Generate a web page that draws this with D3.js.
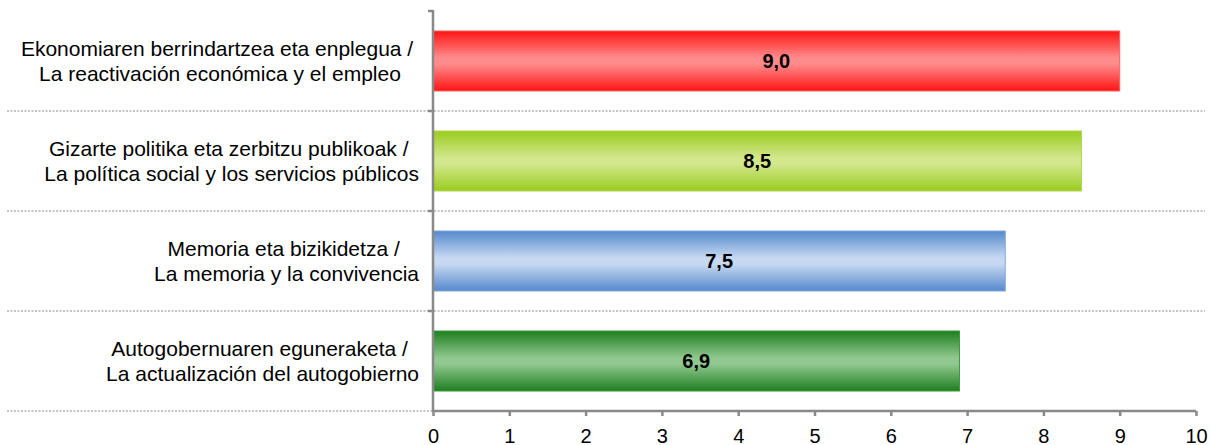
<!DOCTYPE html>
<html><head><meta charset="utf-8">
<script src="https://cdn.jsdelivr.net/npm/d3@7"></script>
<style>html,body{margin:0;padding:0;background:#fff;}svg{display:block;}</style>
</head><body>
<svg id="chart" width="1211" height="445"></svg>
<script>
const categoriesLine1 = [
  "Ekonomiaren berrindartzea eta enplegua / ",
  "Gizarte politika eta zerbitzu publikoak / ",
  "Memoria eta bizikidetza / ",
  "Autogobernuaren eguneraketa / "
];
const categoriesLine2 = [
  "La reactivación económica y el empleo",
  "La política social y los servicios públicos",
  "La memoria y la convivencia",
  "La actualización del autogobierno"
];
const values = [9.0, 8.5, 7.5, 6.9];
const valueLabels = ["9,0", "8,5", "7,5", "6,9"];
const xTicks = [0,1,2,3,4,5,6,7,8,9,10];
const barEdge = ["#ff1414", "#99cc1e", "#5589cd", "#1f7f1f"];
const barMid  = ["#ff8c8c", "#d3e78d", "#c7d9f1", "#90c890"];
const barStroke = ["#ff6060", "#b0d850", "#80a8dc", "#3a9a3a"];

const svg = d3.select("#chart");
const font = "'Liberation Sans', Arial, sans-serif";
const axisColor = "#898989";
const x = d3.scaleLinear().domain([0,10]).range([433,1196]);
const ids = d3.range(values.length);
const y = d3.scaleBand().domain(ids).range([11,411]).paddingInner(0.4).paddingOuter(0.2);

const defs = svg.append("defs");
ids.forEach(i=>{
  const g = defs.append("linearGradient").attr("id","g"+i).attr("x1",0).attr("y1",0).attr("x2",0).attr("y2",1);
  g.append("stop").attr("offset","0%").attr("stop-color",barEdge[i]);
  g.append("stop").attr("offset","45%").attr("stop-color",barMid[i]);
  g.append("stop").attr("offset","55%").attr("stop-color",barMid[i]);
  g.append("stop").attr("offset","100%").attr("stop-color",barEdge[i]);
});

// dotted gridlines between categories
const step = y.step();
const boundaries = ids.slice(1).map(i => y(i) - step*0.2);
boundaries.push(411);
svg.selectAll("line.grid").data(boundaries).enter().append("line")
  .attr("class","grid")
  .attr("x1",7).attr("x2",(d,i)=> i===boundaries.length-1 ? 433 : 1205)
  .attr("y1",d=>d).attr("y2",d=>d)
  .attr("stroke","#b3b3b3").attr("stroke-width",1.5).attr("stroke-dasharray","2,1.5");

// bars
svg.selectAll("rect.bar").data(values).enter().append("rect")
  .attr("class","bar")
  .attr("x",x(0)).attr("y",(d,i)=>y(i))
  .attr("width",d=>x(d)-x(0)).attr("height",y.bandwidth())
  .attr("fill",(d,i)=>"url(#g"+i+")")
  .attr("stroke",(d,i)=>barStroke[i]).attr("stroke-width",1);

// value labels
svg.selectAll("text.val").data(values).enter().append("text")
  .attr("class","val")
  .attr("x",d=>(x(0)+x(d))/2).attr("y",(d,i)=>y(i)+y.bandwidth()/2+7)
  .attr("text-anchor","middle").attr("font-family",font).attr("font-size",20).attr("font-weight","bold")
  .attr("fill","#000").text((d,i)=>valueLabels[i]);

// x axis
const xAxis = d3.axisBottom(x).tickValues(xTicks).tickSize(5).tickFormat(d=>d);
const gx = svg.append("g").attr("transform","translate(0,411)").call(xAxis);
gx.select(".domain").attr("stroke",axisColor).attr("stroke-width",2.5).attr("d","M433,0H1196");
gx.selectAll(".tick line").attr("stroke",axisColor).attr("stroke-width",2.5);
gx.selectAll(".tick text").attr("font-family",font).attr("font-size",20).attr("fill","#000").attr("dy",0).attr("y",31.5);

// y axis line with boundary ticks
svg.append("line").attr("x1",433).attr("x2",433).attr("y1",10).attr("y2",412)
  .attr("stroke",axisColor).attr("stroke-width",2.5);
const yTickPos = [11].concat(boundaries.slice(0,-1));
svg.selectAll("line.ytick").data(yTickPos).enter().append("line")
  .attr("x1",428).attr("x2",433).attr("y1",d=>d).attr("y2",d=>d)
  .attr("stroke",axisColor).attr("stroke-width",2.5);

// category labels: two lines, centered within block, block right-aligned
ids.forEach(i=>{
  const t = svg.append("text").attr("font-family",font).attr("font-size",21).attr("fill","#000")
    .attr("text-anchor","middle").style("white-space","pre");
  const cy = y(i)+y.bandwidth()/2;
  const t1 = t.append("tspan").attr("y",cy-5.5).text(categoriesLine1[i]);
  const t2 = t.append("tspan").attr("y",cy+19.5).text(categoriesLine2[i]);
  const w = Math.max(t1.node().getComputedTextLength(), t2.node().getComputedTextLength());
  const cx = 419 - w/2;
  t1.attr("x",cx); t2.attr("x",cx);
});
</script>
</body></html>
